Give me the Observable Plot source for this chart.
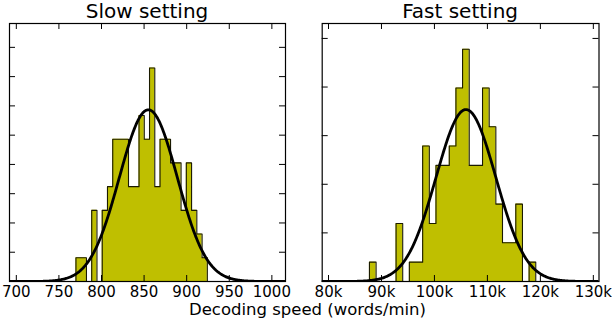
<!DOCTYPE html>
<html>
<head>
<meta charset="utf-8">
<script src="https://cdn.jsdelivr.net/npm/d3@7"></script>
<script src="https://cdn.jsdelivr.net/npm/@observablehq/plot@0.6"></script>
<style>
  html, body { margin: 0; padding: 0; background: #fff; }
  #wrap { position: relative; width: 612px; height: 320px; overflow: hidden; font-family: "DejaVu Sans", sans-serif; }
  .title { position: absolute; top: 0; font-size: 20px; line-height: 23px; text-align: center; color: #000; white-space: nowrap; }
  #xlabel { position: absolute; left: 0; width: 615px; top: 305.3px; font-size: 16.5px; line-height: 10px; text-align: center; color: #000; white-space: nowrap; }
</style>
</head>
<body>
<div id="wrap"></div>
<script>
// ---- data ----
const titles = ["Slow setting", "Fast setting"];
const xLabel = "Decoding speed (words/min)";
const sampleSize = 100;

// Slow setting histogram (25 equal bins, counts per bin)
const slowBinStart = 770;
const slowBinWidth = 6.17;
const slowCounts = [1, 1, 0, 3, 0, 3, 4, 6, 6, 6, 4, 4, 7, 6, 9, 4, 6, 6, 5, 5, 3, 5, 3, 2, 1];
const slowMean = 855;
const slowSd = 34;
const slowDomain = [692, 1016];
const slowTicks = [700, 750, 800, 850, 900, 950, 1000];
const slowTickLabels = ["700", "750", "800", "850", "900", "950", "1000"];
const slowYTicks = [0, 0.002, 0.004, 0.006, 0.008, 0.010, 0.012, 0.014, 0.016];
const slowYMax = 0.01763;

// Fast setting histogram (25 equal bins, counts per bin)
const fastBinStart = 87730;
const fastBinWidth = 1256;
const fastCounts = [1, 0, 0, 0, 3, 0, 1, 1, 7, 3, 6, 6, 7, 10, 12, 6, 6, 10, 8, 4, 2, 2, 4, 0, 1];
const fastMean = 105950;
const fastSd = 5640;
const fastDomain = [78810, 131070];
const fastTicks = [80000, 90000, 100000, 110000, 120000, 130000];
const fastTickLabels = ["80k", "90k", "100k", "110k", "120k", "130k"];
const fastYTicks = [0, 2e-5, 4e-5, 6e-5, 8e-5, 10e-5];
const fastYMax = 1.0614e-4;

// ---- helpers ----
function stepVertices(counts, start, width, n) {
  const pts = [{x: start, y: 0}];
  counts.forEach((c, i) => {
    const d = c / (n * width);
    pts.push({x: start + i * width, y: d}, {x: start + (i + 1) * width, y: d});
  });
  pts.push({x: start + counts.length * width, y: 0});
  return pts;
}
function normalCurve(mu, sd, domain) {
  const xs = d3.range(0, 401).map(i => domain[0] + (domain[1] - domain[0]) * i / 400);
  return xs.map(x => ({x, y: Math.exp(-0.5 * ((x - mu) / sd) ** 2) / (sd * Math.sqrt(2 * Math.PI))}));
}

function panel(cfg) {
  const frameH = cfg.height - cfg.marginTop - cfg.marginBottom;
  const frameW = cfg.width - cfg.marginLeft - cfg.marginRight;
  const tl = 6;
  const verts = stepVertices(cfg.counts, cfg.binStart, cfg.binWidth, sampleSize);
  const curve = normalCurve(cfg.mean, cfg.sd, cfg.domain);
  const labelOf = new Map(cfg.ticks.map((t, i) => [t, cfg.tickLabels[i]]));
  return Plot.plot({
    width: cfg.width,
    height: cfg.height,
    marginLeft: cfg.marginLeft,
    marginRight: cfg.marginRight,
    marginTop: cfg.marginTop,
    marginBottom: cfg.marginBottom,
    style: {fontFamily: "DejaVu Sans, sans-serif", background: "transparent", overflow: "visible"},
    x: {domain: cfg.domain},
    y: {domain: [0, cfg.yMax], axis: null},
    marks: [
      Plot.area(verts, {x1: "x", y1: 0, y2: "y", fill: "#bfbf00", curve: "linear"}),
      Plot.line(verts, {x: "x", y: "y", stroke: "#1a1a00", strokeWidth: 1.1, curve: "linear"}),
      Plot.line(curve, {x: "x", y: "y", stroke: "#000", strokeWidth: 2.8, clip: true}),
      // inward ticks: bottom & top
      Plot.ruleX(cfg.ticks, {x: d => d, insetTop: frameH - tl, stroke: "#000", strokeWidth: 1}),
      Plot.ruleX(cfg.ticks, {x: d => d, insetBottom: frameH - tl, stroke: "#000", strokeWidth: 1}),
      // inward ticks: left & right
      Plot.ruleY(cfg.yTicks, {y: d => d, insetRight: frameW - tl, stroke: "#000", strokeWidth: 1}),
      Plot.ruleY(cfg.yTicks, {y: d => d, insetLeft: frameW - tl, stroke: "#000", strokeWidth: 1}),
      Plot.frame({stroke: "#000", strokeWidth: 1.2}),
      Plot.axisX(cfg.ticks, {tickSize: 0, tickPadding: 5, fontSize: 15, label: null, tickFormat: d => labelOf.get(d), fill: "#000"})
    ]
  });
}

const wrap = document.getElementById("wrap");
const panels = [
  {left: 0, width: 300, marginLeft: 9, marginRight: 15, counts: slowCounts, binStart: slowBinStart, binWidth: slowBinWidth,
   mean: slowMean, sd: slowSd, domain: slowDomain, ticks: slowTicks, tickLabels: slowTickLabels, yTicks: slowYTicks, yMax: slowYMax, title: titles[0]},
  {left: 306, width: 306, marginLeft: 15.7, marginRight: 13.5, counts: fastCounts, binStart: fastBinStart, binWidth: fastBinWidth,
   mean: fastMean, sd: fastSd, domain: fastDomain, ticks: fastTicks, tickLabels: fastTickLabels, yTicks: fastYTicks, yMax: fastYMax, title: titles[1]}
];
for (const p of panels) {
  const cfg = {...p, height: 300, marginTop: 23, marginBottom: 19};
  const svg = panel(cfg);
  svg.style.position = "absolute";
  svg.style.left = p.left + "px";
  svg.style.top = "0px";
  wrap.appendChild(svg);
  const t = document.createElement("div");
  t.className = "title";
  t.textContent = p.title;
  const fl = p.left + p.marginLeft, fr = p.left + p.width - p.marginRight;
  t.style.left = (fl - 50) + "px";
  t.style.width = (fr - fl + 100) + "px";
  wrap.appendChild(t);
}
const xl = document.createElement("div");
xl.id = "xlabel";
xl.textContent = xLabel;
wrap.appendChild(xl);
</script>
</body>
</html>
